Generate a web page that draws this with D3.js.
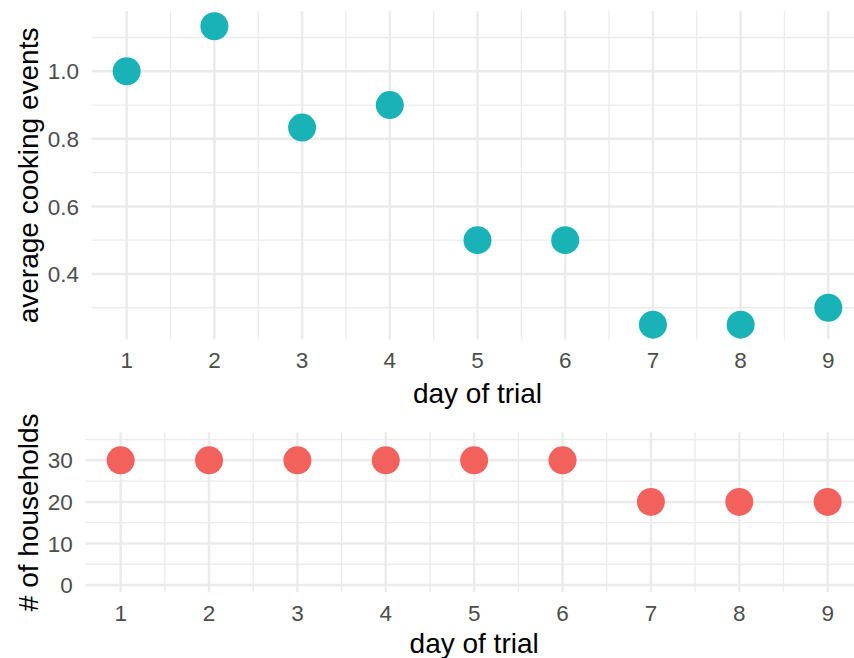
<!DOCTYPE html>
<html>
<head>
<meta charset="utf-8">
<script src="https://cdn.jsdelivr.net/npm/d3@7"></script>
<style>
  html, body { margin: 0; padding: 0; background: #ffffff; overflow: hidden; }
  svg { display: block; font-family: "Liberation Sans", Arial, Helvetica, sans-serif; }
</style>
</head>
<body>
<svg id="chart" width="854" height="658"></svg>
<script>
// ---- data ----
const days = [1, 2, 3, 4, 5, 6, 7, 8, 9];
const avgCooking = [1.0, 1.1333, 0.8333, 0.9, 0.5, 0.5, 0.25, 0.25, 0.3];
const households = [30, 30, 30, 30, 30, 30, 20, 20, 20];
const xTicks = [1, 2, 3, 4, 5, 6, 7, 8, 9];
const xMinor = [1.5, 2.5, 3.5, 4.5, 5.5, 6.5, 7.5, 8.5];
const topYTicks = [0.4, 0.6, 0.8, 1.0];
const topYMinor = [0.3, 0.5, 0.7, 0.9, 1.1];
const botYTicks = [0, 10, 20, 30];
const botYMinor = [5, 15, 25, 35];
const xTitle = "day of trial";
const topYTitle = "average cooking events";
const botYTitle = "# of households";

const svg = d3.select("#chart");
const gridColor = "#EBEBEB";
const tickColor = "#4D4D4D";

function panel(opts) {
  const g = svg.append("g");
  const x = d3.scaleLinear().domain([0.6, 9.4]).range([opts.left, opts.right]);
  const y = d3.scaleLinear().domain(opts.yDomain).range([opts.bottom, opts.top]);

  // minor grid
  g.selectAll(null).data(opts.yMinor).enter().append("line")
    .attr("x1", opts.left).attr("x2", opts.right)
    .attr("y1", d => y(d)).attr("y2", d => y(d))
    .attr("stroke", gridColor).attr("stroke-width", 1.3);
  g.selectAll(null).data(xMinor).enter().append("line")
    .attr("x1", d => x(d)).attr("x2", d => x(d))
    .attr("y1", opts.top).attr("y2", opts.bottom)
    .attr("stroke", gridColor).attr("stroke-width", 1.3);
  // major grid
  g.selectAll(null).data(opts.yTicks).enter().append("line")
    .attr("x1", opts.left).attr("x2", opts.right)
    .attr("y1", d => y(d)).attr("y2", d => y(d))
    .attr("stroke", gridColor).attr("stroke-width", 2.5);
  g.selectAll(null).data(xTicks).enter().append("line")
    .attr("x1", d => x(d)).attr("x2", d => x(d))
    .attr("y1", opts.top).attr("y2", opts.bottom)
    .attr("stroke", gridColor).attr("stroke-width", 2.5);

  // points
  g.selectAll(null).data(days.map((d, i) => [d, opts.values[i]])).enter().append("circle")
    .attr("cx", d => x(d[0])).attr("cy", d => y(d[1]))
    .attr("r", 14).attr("fill", opts.color);

  // y tick labels
  g.selectAll(null).data(opts.yTicks).enter().append("text")
    .attr("x", opts.left - 12.5).attr("y", d => y(d)).attr("dy", "0.36em")
    .attr("text-anchor", "end").attr("font-size", 22.5).attr("fill", tickColor)
    .text(d => opts.yFormat(d));
  // x tick labels
  g.selectAll(null).data(xTicks).enter().append("text")
    .attr("x", d => x(d)).attr("y", opts.xTickBase)
    .attr("text-anchor", "middle").attr("font-size", 22.5).attr("fill", tickColor)
    .text(d => d);
  // x title
  g.append("text")
    .attr("x", (opts.left + opts.right) / 2).attr("y", opts.xTitleBase)
    .attr("text-anchor", "middle").attr("font-size", 28).attr("fill", "#000")
    .text(xTitle);
  // y title
  const cy = (opts.top + opts.bottom) / 2;
  g.append("text")
    .attr("transform", `translate(${opts.yTitleBase},${cy}) rotate(-90)`)
    .attr("text-anchor", "middle").attr("font-size", 28).attr("fill", "#000")
    .text(opts.yTitle);
}

panel({
  left: 91.6, right: 863.4, top: 11.3, bottom: 339.6,
  yDomain: [0.2058, 1.1775],
  yTicks: topYTicks, yMinor: topYMinor,
  values: avgCooking, color: "#19B3B7",
  yFormat: d3.format(".1f"),
  xTickBase: 368.3, xTitleBase: 403, yTitleBase: 38,
  yTitle: topYTitle
});

panel({
  left: 85.3, right: 863, top: 432.3, bottom: 592.3,
  yDomain: [-1.75, 36.75],
  yTicks: botYTicks, yMinor: botYMinor,
  values: households, color: "#F3615D",
  yFormat: d3.format("d"),
  xTickBase: 620.7, xTitleBase: 653, yTitleBase: 38,
  yTitle: botYTitle
});
</script>
</body>
</html>
